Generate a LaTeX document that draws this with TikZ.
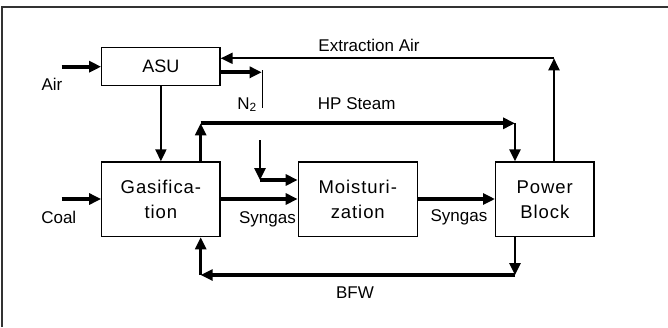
\documentclass[tikz,border=0pt]{standalone}
\usepackage{fontspec}
\setmainfont{Liberation Sans}
\newfontfamily\boxfont[LetterSpace=5]{Liberation Sans}
\usetikzlibrary{arrows.meta}
\begin{document}
\begin{tikzpicture}[x=1pt,y=-1pt,
  box/.style={draw,line width=1.3pt,inner sep=0pt,align=center,font=\boxfont\fontsize{18.5}{25}\selectfont},
  lbl/.style={inner sep=0pt,anchor=base,font=\fontsize{17}{20}\selectfont},
  thk/.style={line width=4pt},
  med/.style={line width=2.6pt},
  thn/.style={line width=2pt},
  tip/.style={-{Triangle[length=12pt,width=11pt]}}
]
\useasboundingbox (0,0) rectangle (668,327);
\draw[line width=1.6pt,black!80] (2,327) -- (2,7) -- (668,7);

% boxes
\node[box,minimum width=118.3pt,minimum height=37.6pt,font=\fontsize{18}{25}\selectfont] (asu) at (160.9,66.5) {ASU};
\node[box,minimum width=118.3pt,minimum height=74.7pt] (gas) at (160.9,199.3) {Gasifica-\\tion};
\node[box,minimum width=119pt,minimum height=74.7pt] (moi) at (357.8,199.3) {Moisturi-\\zation};
\node[box,minimum width=98.3pt,minimum height=74.7pt] (pb) at (544.8,199.3) {Power\\Block};

% coordinates
\coordinate (airS) at (61.7,66.7);
\coordinate (coalS) at (61.7,199);
\coordinate (n2E) at (261.7,72.3);
\coordinate (n2T) at (262.5,70);
\coordinate (n2B) at (262.5,108);
\coordinate (exC) at (554,58.3);
\coordinate (hpL) at (200.7,123.3);
\coordinate (hpR) at (515,123.3);
\coordinate (wT) at (260,140);
\coordinate (wC) at (260,180);
\coordinate (bR) at (515,275);
\coordinate (bL) at (200.7,275);

% flows
\draw[thk,tip] (airS) -- (asu.west |- airS);
\draw[thk,tip] (coalS) -- (gas.west |- coalS);
\draw[thn,tip] (asu.south) -- (gas.north);
\draw[thk,tip] (asu.east |- n2E) -- (n2E);
\draw[line width=1.3pt] (n2T) -- (n2B);
\draw[thn,tip] (pb.north -| exC) -- (exC);
\draw[thn,tip] (exC) -- (asu.east |- exC);
\draw[med,tip] (gas.north -| hpL) -- (hpL);
\draw[thk,tip] (hpL) -- (hpR);
\draw[med,tip] (hpR) -- (pb.north -| hpR);
\draw[med,tip] (wT) -- (wC);
\draw[thk,tip] (wC) -- (moi.west |- wC);
\draw[thk,tip] (gas.east |- coalS) -- (moi.west |- coalS);
\draw[thk,tip] (moi.east |- coalS) -- (pb.west |- coalS);
\draw[med,tip] (pb.south -| bR) -- (bR);
\draw[thk,tip] (bR) -- (bL);
\draw[med,tip] (bL) -- (gas.south -| bL);

% labels
\node[lbl] (lair) at (52,90.7) {Air};
\node[lbl] (lcoal) at (58.8,223.3) {Coal};
\node[lbl] (ln2) at (247,109) {N\textsubscript{2}};
\node[lbl] (lex) at (369,51.7) {Extraction Air};
\node[lbl] (lhp) at (356.7,109) {HP Steam};
\node[lbl] (lsg1) at (267.5,223.3) {Syngas};
\node[lbl] (lsg2) at (459,221.7) {Syngas};
\node[lbl] (lbfw) at (355,298.3) {BFW};
\end{tikzpicture}
\end{document}
